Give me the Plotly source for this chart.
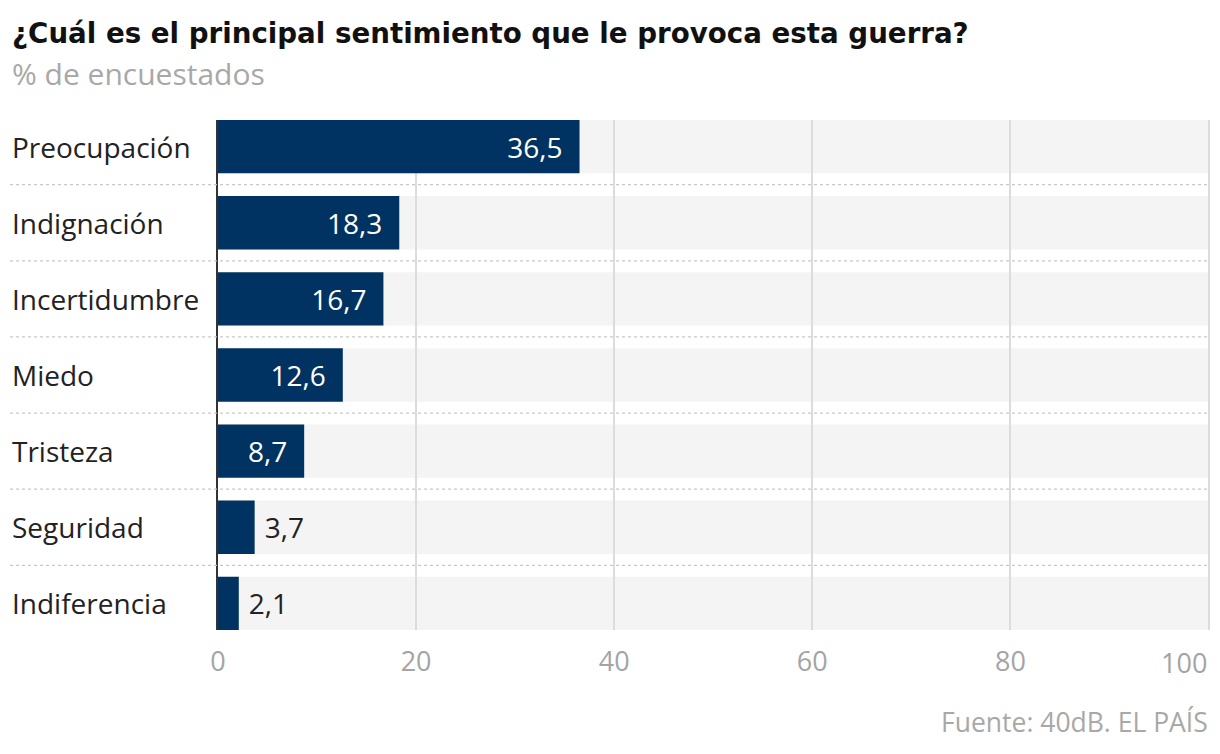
import plotly.graph_objects as go

categories = ['Preocupación', 'Indignación', 'Incertidumbre', 'Miedo',
              'Tristeza', 'Seguridad', 'Indiferencia']
values = [36.5, 18.3, 16.7, 12.6, 8.7, 3.7, 2.1]
x_max = 100
x_ticks = [0, 20, 40, 60, 80, 100]

FONT = 'Open Sans'
NAVY = '#003361'
TICK_GREY = '#a4a4a4'
BAR_W = 0.7
LEFT = -0.2095  # text column starts left of the plot area

labels = [f'{v:.1f}'.replace('.', ',') for v in values]
inside = [v > 6 for v in values]
text = [f'{t}\u2002' if ins else f'\u2005{t}' for t, ins in zip(labels, inside)]

fig = go.Figure()
fig.add_trace(go.Bar(
    y=categories, x=values, orientation='h',
    marker=dict(color=NAVY, line=dict(width=0)),
    width=BAR_W,
    text=text,
    textposition=['inside' if ins else 'outside' for ins in inside],
    insidetextanchor='end',
    textfont=dict(family=FONT, size=28,
                  color=['white' if ins else '#222' for ins in inside]),
    cliponaxis=False,
    hoverinfo='skip',
))

# grey row bands below the grid, and dotted separators between rows
n = len(categories)
for i in range(n):
    fig.add_shape(type='rect', layer='below', xref='x', yref='y',
                  x0=0, x1=x_max, y0=i - BAR_W / 2, y1=i + BAR_W / 2,
                  fillcolor='#f4f4f4', line_width=0)
for i in range(n - 1):
    fig.add_shape(type='line', layer='above', xref='paper', yref='y',
                  x0=LEFT, x1=0.999, y0=i + 0.5, y1=i + 0.5,
                  line=dict(color='#c8c8c8', width=1.2, dash='dot'))

# left-aligned category labels
for c in categories:
    fig.add_annotation(text=c, xref='paper', yref='y', x=LEFT, y=c,
                       xanchor='left', yanchor='middle', showarrow=False,
                       font=dict(family=FONT, size=28, color='#222'))

# last tick label sits flush left of its gridline
fig.add_annotation(text=str(x_ticks[-1]), xref='x', yref='paper',
                   x=x_ticks[-1], y=0, yshift=-32,
                   xanchor='right', yanchor='middle', showarrow=False,
                   font=dict(family=FONT, size=27, color=TICK_GREY))

fig.add_annotation(text='<b>¿Cuál es el principal sentimiento que le provoca esta guerra?</b>',
                   xref='paper', yref='paper', x=LEFT, y=1.0, yshift=87,
                   xanchor='left', yanchor='middle', showarrow=False,
                   font=dict(family='DejaVu Sans', size=27.7, color='#111'))
fig.add_annotation(text='% de encuestados',
                   xref='paper', yref='paper', x=LEFT, y=1.0, yshift=47,
                   xanchor='left', yanchor='middle', showarrow=False,
                   font=dict(family=FONT, size=30, color='#a8a8a8'))
fig.add_annotation(text='Fuente: 40dB. EL PAÍS',
                   xref='paper', yref='paper', x=0.999, y=0, yshift=-92,
                   xanchor='right', yanchor='middle', showarrow=False,
                   font=dict(family=FONT, size=26.5, color='#a8a8a8'))

fig.update_layout(
    width=1204, height=738,
    margin=dict(l=210, r=1, t=112, b=116),
    paper_bgcolor='white', plot_bgcolor='white',
    showlegend=False,
    bargap=0.3,
    xaxis=dict(range=[0, x_max + 0.25], tickvals=x_ticks,
               ticktext=[str(t) for t in x_ticks[:-1]] + [''],
               showgrid=True, gridcolor='#dcdcdc', gridwidth=2, zeroline=False,
               tickfont=dict(family=FONT, size=27, color=TICK_GREY),
               ticks='outside', ticklen=8, tickcolor='rgba(0,0,0,0)',
               automargin=False, fixedrange=True),
    yaxis=dict(autorange=False, range=[n - 1 + BAR_W / 2, -BAR_W / 2],
               showticklabels=False, showgrid=False, zeroline=False,
               showline=True, linecolor='#333', linewidth=2,
               automargin=False, fixedrange=True),
)

fig.write_html('out.html')
